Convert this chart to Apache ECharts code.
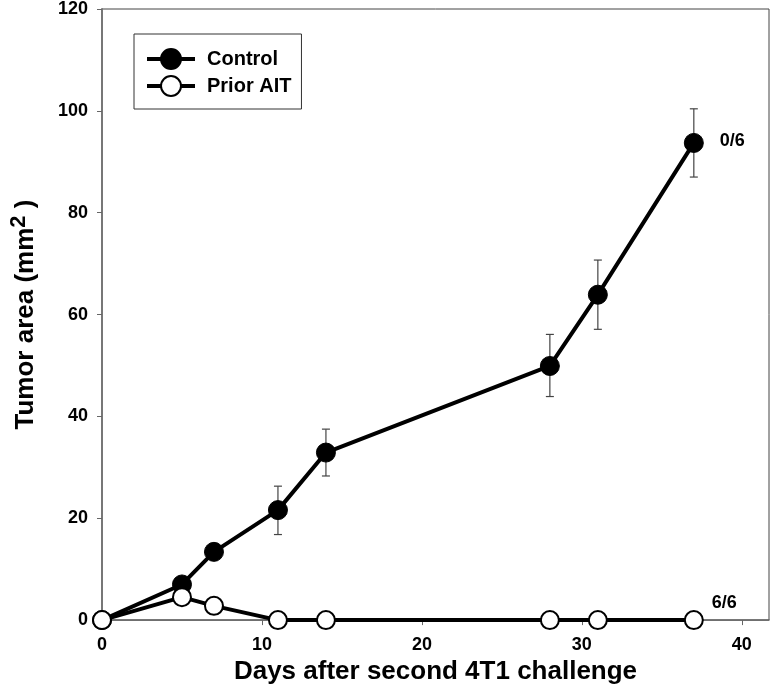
<!DOCTYPE html>
<html>
<head>
<meta charset="utf-8">
<script src="https://cdn.jsdelivr.net/npm/echarts@6/dist/echarts.min.js"></script>
<style>html,body{margin:0;padding:0;background:#fff}#c{width:774px;height:690px}</style>
</head>
<body>
<div id="c"></div>
<script>
const days = [0, 5, 7, 11, 14, 28, 31, 37];
const controlMean = [0, 7, 13.4, 21.6, 32.9, 49.9, 63.9, 93.7];
const controlLow = [0, 7, 13.4, 16.8, 28.3, 43.9, 57.1, 87.0];
const controlHigh = [0, 7, 13.4, 26.3, 37.5, 56.1, 70.7, 100.4];
const priorMean = [0, 4.5, 2.8, 0, 0, 0, 0, 0];
const xTicks = [0, 10, 20, 30, 40];
const yTicks = [0, 20, 40, 60, 80, 100, 120];
const controlNote = '0/6';
const priorNote = '6/6';

const FONT = '"Liberation Sans", Arial, sans-serif';
const chart = echarts.init(document.getElementById('c'));

const controlData = days.map((d, i) => {
  const item = { value: [d, controlMean[i]] };
  if (i === days.length - 1) {
    item.label = { show: true, position: 'right', distance: 16, offset: [0, -2],
      formatter: controlNote, fontSize: 18, fontWeight: 'bold', color: '#000', fontFamily: FONT };
  }
  return item;
});
const priorData = days.map((d, i) => {
  const item = { value: [d, priorMean[i]] };
  if (i === days.length - 1) {
    item.label = { show: true, position: 'right', distance: 8, offset: [0, -17],
      formatter: priorNote, fontSize: 18, fontWeight: 'bold', color: '#000', fontFamily: FONT };
  }
  return item;
});
const errData = days.map((d, i) => [d, controlLow[i], controlHigh[i]]).filter(r => r[2] - r[1] > 0.5);

chart.setOption({
  animation: false,
  backgroundColor: '#fff',
  textStyle: { fontFamily: FONT },
  grid: { left: 97, right: 5, top: 7, bottom: 69, show: true, borderColor: '#444', borderWidth: 1 },
  legend: {
    data: ['Control', 'Prior AIT'],
    orient: 'vertical',
    left: 134, top: 34,
    padding: [14, 10, 12, 11],
    itemGap: 5,
    itemWidth: 48, itemHeight: 25,
    borderColor: '#333', borderWidth: 1,
    lineStyle: { width: 4 },
    textStyle: { fontSize: 20, fontWeight: 'bold', color: '#000', fontFamily: FONT, padding: [0, 0, 0, 7] }
  },
  xAxis: {
    type: 'value', min: 0, max: 41.7, interval: 10,
    name: 'Days after second 4T1 challenge',
    nameLocation: 'middle', nameGap: 38,
    nameTextStyle: { fontSize: 26, fontWeight: 'bold', color: '#000', fontFamily: FONT },
    axisLine: { show: true, lineStyle: { color: '#666', width: 1.5 } },
    axisTick: { show: true, length: 5, lineStyle: { color: '#666' } },
    axisLabel: { margin: 16, fontSize: 18, fontWeight: 'bold', color: '#000', fontFamily: FONT,
      showMaxLabel: false, formatter: v => xTicks.includes(v) ? String(v) : '' },
    splitLine: { show: false }
  },
  yAxis: {
    type: 'value', min: 0, max: 120, interval: 20,
    name: 'Tumor area (mm{sup|2} )',
    nameLocation: 'middle', nameGap: 58,
    nameTextStyle: { fontSize: 26, fontWeight: 'bold', color: '#000', fontFamily: FONT,
      rich: { sup: { fontSize: 22, fontWeight: 'bold', color: '#000', fontFamily: FONT, padding: [0, 0, 14, 0] } } },
    axisLine: { show: true, lineStyle: { color: '#777', width: 2 } },
    axisTick: { show: true, length: 5, lineStyle: { color: '#666' } },
    axisLabel: { margin: 14, fontSize: 18, fontWeight: 'bold', color: '#000', fontFamily: FONT,
      formatter: v => yTicks.includes(v) ? String(v) : '' },
    splitLine: { show: false }
  },
  series: [
    {
      type: 'custom', name: 'err', z: 1, silent: true,
      data: errData,
      renderItem: function (params, api) {
        const x = api.value(0);
        const lo = api.coord([x, api.value(1)]);
        const hi = api.coord([x, api.value(2)]);
        const hw = 4;
        const st = { stroke: '#444', lineWidth: 1.2 };
        return { type: 'group', children: [
          { type: 'line', shape: { x1: lo[0], y1: lo[1], x2: hi[0], y2: hi[1] }, style: st },
          { type: 'line', shape: { x1: lo[0] - hw, y1: lo[1], x2: lo[0] + hw, y2: lo[1] }, style: st },
          { type: 'line', shape: { x1: hi[0] - hw, y1: hi[1], x2: hi[0] + hw, y2: hi[1] }, style: st }
        ]};
      }
    },
    {
      type: 'line', name: 'Control', z: 3,
      data: controlData,
      symbol: 'circle', symbolSize: 19,
      lineStyle: { color: '#000', width: 4 },
      itemStyle: { color: '#000', borderColor: '#000', borderWidth: 1 }
    },
    {
      type: 'line', name: 'Prior AIT', z: 4,
      data: priorData,
      symbol: 'circle', symbolSize: 18,
      lineStyle: { color: '#000', width: 4 },
      itemStyle: { color: '#fff', borderColor: '#000', borderWidth: 2 }
    }
  ]
});
</script>
</body>
</html>
